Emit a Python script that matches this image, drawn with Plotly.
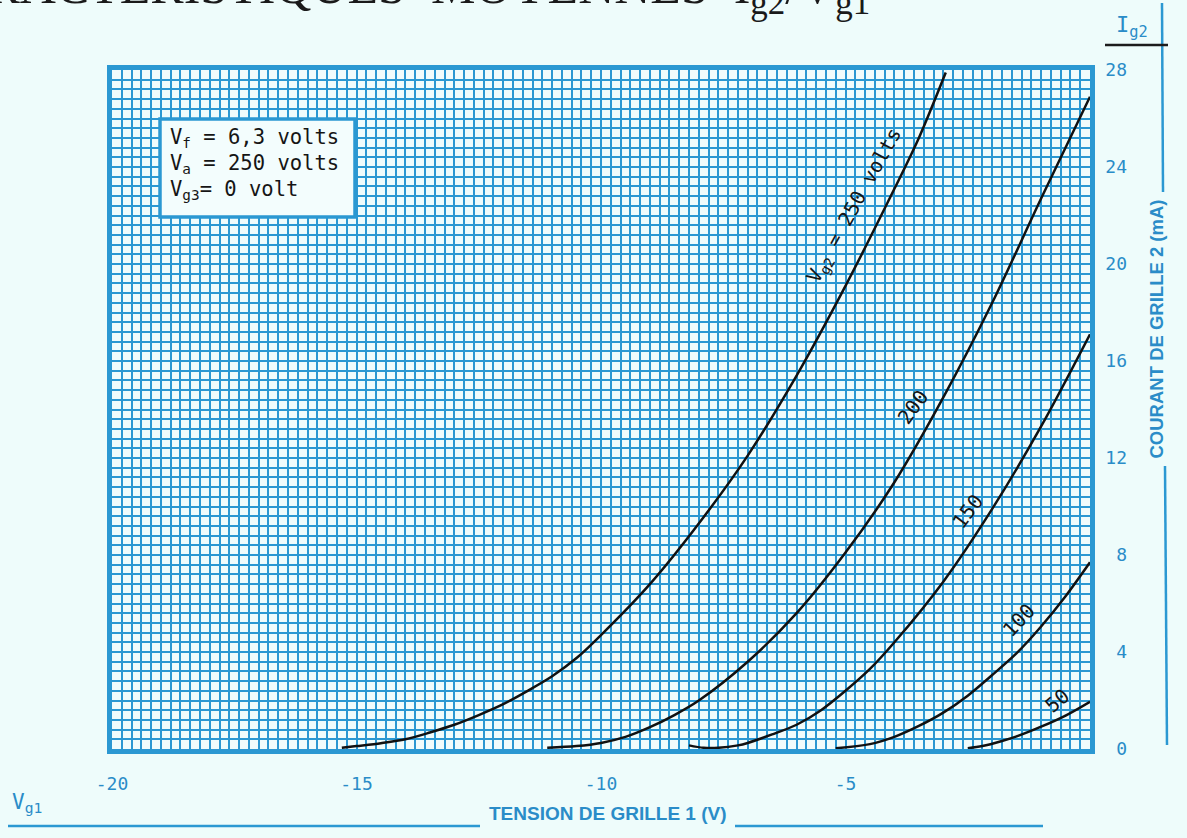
import plotly.graph_objects as go

# ---------------- data ----------------
x_tick_vals = [-20, -15, -10, -5]
y_tick_vals = [0, 4, 8, 12, 16, 20, 24, 28]

vg1_250 = [-15.3, -15.0, -14.5, -14.0, -13.5, -13.0, -12.5, -12.0, -11.5, -11.0, -10.5, -10.0,
           -9.0, -8.0, -7.0, -6.0, -5.0, -4.0, -3.5, -2.95]
ig2_250 = [0.05, 0.12, 0.24, 0.4, 0.68, 1.0, 1.4, 1.85, 2.4, 3.0, 3.75, 4.7,
           6.8, 9.3, 12.1, 15.4, 19.1, 23.1, 25.2, 27.9]

vg1_200 = [-11.1, -10.5, -10.0, -9.5, -9.0, -8.5, -8.0, -7.0, -6.0, -5.0, -4.0, -3.0, -2.0, -1.0, 0.0]
ig2_200 = [0.05, 0.12, 0.25, 0.5, 0.9, 1.4, 2.0, 3.6, 5.6, 8.1, 11.0, 14.5, 18.4, 22.7, 26.9]

vg1_150 = [-8.2, -7.9, -7.6, -7.2, -7.0, -6.5, -6.0, -5.5, -5.0, -4.5, -4.0, -3.0, -2.0, -1.0, 0.0]
ig2_150 = [0.15, 0.05, 0.05, 0.15, 0.25, 0.6, 1.0, 1.6, 2.4, 3.3, 4.4, 6.9, 9.9, 13.3, 17.1]

vg1_100 = [-5.2, -4.5, -4.0, -3.5, -3.0, -2.5, -2.0, -1.5, -1.0, -0.5, 0.0]
ig2_100 = [0.03, 0.2, 0.5, 0.95, 1.5, 2.2, 3.05, 3.95, 5.05, 6.3, 7.7]

vg1_50 = [-2.5, -2.2, -1.8, -1.5, -1.0, -0.5, 0.0]
ig2_50 = [0.03, 0.12, 0.33, 0.52, 0.92, 1.38, 1.95]

curves = [
    ("250", vg1_250, ig2_250),
    ("200", vg1_200, ig2_200),
    ("150", vg1_150, ig2_150),
    ("100", vg1_100, ig2_100),
    ("50", vg1_50, ig2_50),
]

# ---------------- style ----------------
W, H = 1187, 838
L, R, T, B = 112, 1090, 70, 749
BLUE = "#2b98d2"
BLUE_TXT = "#2a8cc8"
PAGE = "#eefcfb"
CELL = "#f0fcfc"
LETTER = "DejaVu Sans Mono, monospace"


def px(xp):
    return (xp - L) / (R - L)


def py(yp):
    return (B - yp) / (B - T)


fig = go.Figure()
for name, xs, ys in curves:
    fig.add_trace(go.Scatter(x=xs, y=ys, mode="lines", name=name,
                             line=dict(color="#111111", width=2.5, shape="spline", smoothing=0.9),
                             showlegend=False, hoverinfo="skip"))

x_major = list(range(-20, 1))
x_text = [str(v) if v in x_tick_vals else "" for v in x_major]
y_major = list(range(0, 29, 2))
y_text = [(("\u2007" + str(v)) if v < 10 else str(v)) if v in y_tick_vals else "" for v in y_major]

fig.update_layout(
    width=W, height=H,
    margin=dict(l=L, r=W - R, t=T, b=H - B, pad=0),
    paper_bgcolor=PAGE, plot_bgcolor=CELL,
    showlegend=False,
    xaxis=dict(range=[-20, 0], tickmode="array", tickvals=x_major, ticktext=x_text,
               showgrid=True, gridcolor=BLUE, gridwidth=2.4,
               minor=dict(tickmode="linear", tick0=-20, dtick=0.2, showgrid=True,
                          gridcolor=BLUE, gridwidth=1.5, ticks=""),
               showline=True, linecolor=BLUE, linewidth=4.5, mirror=True,
               ticks="", ticklabelstandoff=15, zeroline=False,
               tickfont=dict(family=LETTER, size=18, color=BLUE_TXT)),
    yaxis=dict(range=[0, 28], side="right", tickmode="array", tickvals=y_major, ticktext=y_text,
               showgrid=True, gridcolor=BLUE, gridwidth=2.4,
               minor=dict(tickmode="linear", tick0=0, dtick=0.4, showgrid=True,
                          gridcolor=BLUE, gridwidth=1.5, ticks=""),
               showline=True, linecolor=BLUE, linewidth=4.5, mirror=True,
               ticks="", ticklabelstandoff=7, zeroline=False,
               tickfont=dict(family=LETTER, size=18, color=BLUE_TXT)),
)

shapes = []
# condition box
shapes.append(dict(type="rect", xref="paper", yref="paper",
                   x0=px(160), x1=px(355), y0=py(217), y1=py(119),
                   fillcolor="#f3fdfd", line=dict(color=BLUE, width=3.5), layer="above"))
# right axis rule (broken around title)
shapes.append(dict(type="line", xref="paper", yref="paper", x0=px(1162), x1=px(1163),
                   y0=py(3), y1=py(192), line=dict(color=BLUE, width=2.5)))
shapes.append(dict(type="line", xref="paper", yref="paper", x0=px(1165), x1=px(1167),
                   y0=py(466), y1=py(745), line=dict(color=BLUE, width=2.5)))
# Ig2 underline
shapes.append(dict(type="line", xref="paper", yref="paper", x0=px(1105), x1=px(1168),
                   y0=py(45), y1=py(45), line=dict(color="#1c1c1c", width=2.5)))
# bottom axis rule (broken around title)
shapes.append(dict(type="line", xref="paper", yref="paper", x0=px(8), x1=px(480),
                   y0=py(826), y1=py(826), line=dict(color=BLUE, width=2.5)))
shapes.append(dict(type="line", xref="paper", yref="paper", x0=px(735), x1=px(1043),
                   y0=py(826), y1=py(826), line=dict(color=BLUE, width=2.5)))
fig.update_layout(shapes=shapes)

ann = []
# page title (cut off by the page edge)
ann.append(dict(xref="paper", yref="paper", x=px(872), y=py(-10), xanchor="right", yanchor="middle",
                text="CARACTERISTIQUES  MOYENNES  I<sub>g2</sub>/V<sub>g1</sub>", showarrow=False,
                font=dict(family="Liberation Serif, serif", size=50, color="#1a1a1a")))
# condition box text
box_lines = [("V<sub>f</sub> = 6,3 volts", 138), ("V<sub>a</sub> = 250 volts", 164),
             ("V<sub>g3</sub>= 0 volt", 190)]
for txt, yy in box_lines:
    ann.append(dict(xref="paper", yref="paper", x=px(168), y=py(yy), xanchor="left",
                    yanchor="middle", text=txt, showarrow=False,
                    font=dict(family=LETTER, size=20.5, color="#151515")))
# curve labels
curve_labels = [("V<sub>g2</sub> = 250 volts", -4.82, 22.4, -61, 20),
                ("200", -3.62, 14.1, -54, 20),
                ("150", -2.49, 9.8, -53, 20),
                ("100", -1.45, 5.3, -47, 20),
                ("50", -0.68, 2.0, -40, 20)]
for txt, xv, yv, ang, sz in curve_labels:
    ann.append(dict(xref="x", yref="y", x=xv, y=yv, text=txt, textangle=ang, showarrow=False,
                    font=dict(family=LETTER, size=sz, color="#151515")))
# axis names
ann.append(dict(xref="paper", yref="paper", x=px(1114), y=py(26), xanchor="left", yanchor="middle",
                text="I<sub>g2</sub>", showarrow=False,
                font=dict(family=LETTER, size=22, color=BLUE_TXT)))
ann.append(dict(xref="paper", yref="paper", x=px(10), y=py(803), xanchor="left", yanchor="middle",
                text="V<sub>g1</sub>", showarrow=False,
                font=dict(family=LETTER, size=21, color=BLUE_TXT)))
ann.append(dict(xref="paper", yref="paper", x=px(608), y=py(826), text="<b>TENSION DE GRILLE 1 (V)</b>",
                showarrow=False, font=dict(family="Liberation Sans, Arial, sans-serif", size=19, color=BLUE_TXT)))
ann.append(dict(xref="paper", yref="paper", x=px(1168), y=py(329), text="<b>COURANT DE GRILLE 2 (mA)</b>",
                textangle=-90, showarrow=False,
                font=dict(family="Liberation Sans, Arial, sans-serif", size=18.5, color=BLUE_TXT)))
fig.update_layout(annotations=ann)

fig.write_html("out.html", config={"displayModeBar": False},
               post_script="document.body.style.margin='0';")
